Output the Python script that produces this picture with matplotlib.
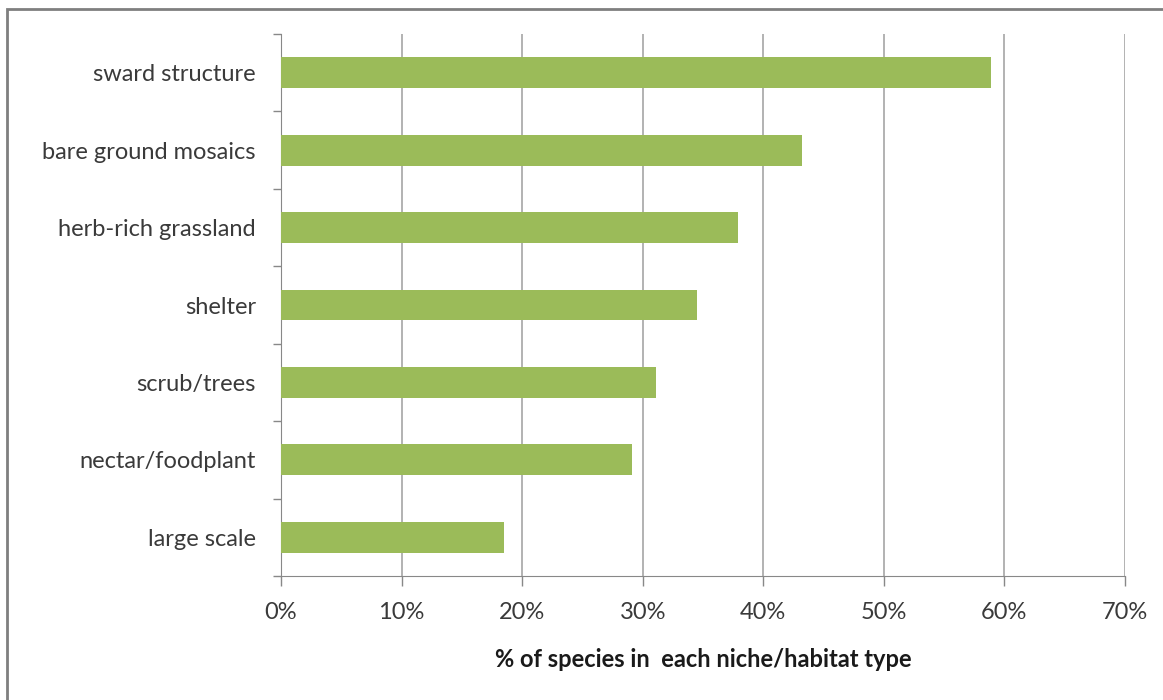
import matplotlib.pyplot as plt
from matplotlib.patches import Rectangle
from matplotlib.ticker import PercentFormatter

plt.rcParams['font.family'] = ['Lato', 'DejaVu Sans']

categories = ['sward structure', 'bare ground mosaics', 'herb-rich grassland',
              'shelter', 'scrub/trees', 'nectar/foodplant', 'large scale']
values = [58.9, 43.2, 37.9, 34.5, 31.1, 29.1, 18.5]
xticks = [0, 10, 20, 30, 40, 50, 60, 70]

fig = plt.figure(figsize=(11.63, 7), dpi=100)
ax = fig.add_axes([281 / 1163, 1 - 576 / 700, (1125 - 281) / 1163, (576 - 34) / 700])

ypos = list(range(len(categories)))[::-1]
ax.barh(ypos, values, height=0.4, color='#9bbb59', zorder=3)

ax.set_xlim(0, 70)
ax.set_ylim(-0.5, len(categories) - 0.5)
ax.set_xticks(xticks)
ax.xaxis.set_major_formatter(PercentFormatter(decimals=0))
ax.set_yticks(ypos)
ax.set_yticklabels(categories)

# category boundary ticks on the value axis
ax.set_yticks([i - 0.5 for i in range(len(categories) + 1)], minor=True)
ax.tick_params(axis='y', which='major', length=0, pad=18, labelsize=17, labelcolor='#3a3a3a')
ax.tick_params(axis='y', which='minor', length=6, color='#888888', width=1)
ax.tick_params(axis='x', length=7, color='#888888', width=1, pad=12, labelsize=17,
               labelcolor='#3a3a3a')

ax.grid(axis='x', color='#a6a6a6', linewidth=1.2, zorder=0)
for side in ['top', 'right']:
    ax.spines[side].set_visible(False)
for side in ['left', 'bottom']:
    ax.spines[side].set_color('#888888')

ax.set_xlabel('% of species in  each niche/habitat type', fontsize=17, fontweight='bold',
              color='#1a1a1a', labelpad=18)

# chart frame
fig.patches.append(Rectangle((7 / 1163, -0.05), 1.1, 1 - 9 / 700 + 0.05,
                             transform=fig.transFigure, fill=False,
                             edgecolor='#7f7f7f', linewidth=2))

fig.savefig('out.png', dpi=100)
